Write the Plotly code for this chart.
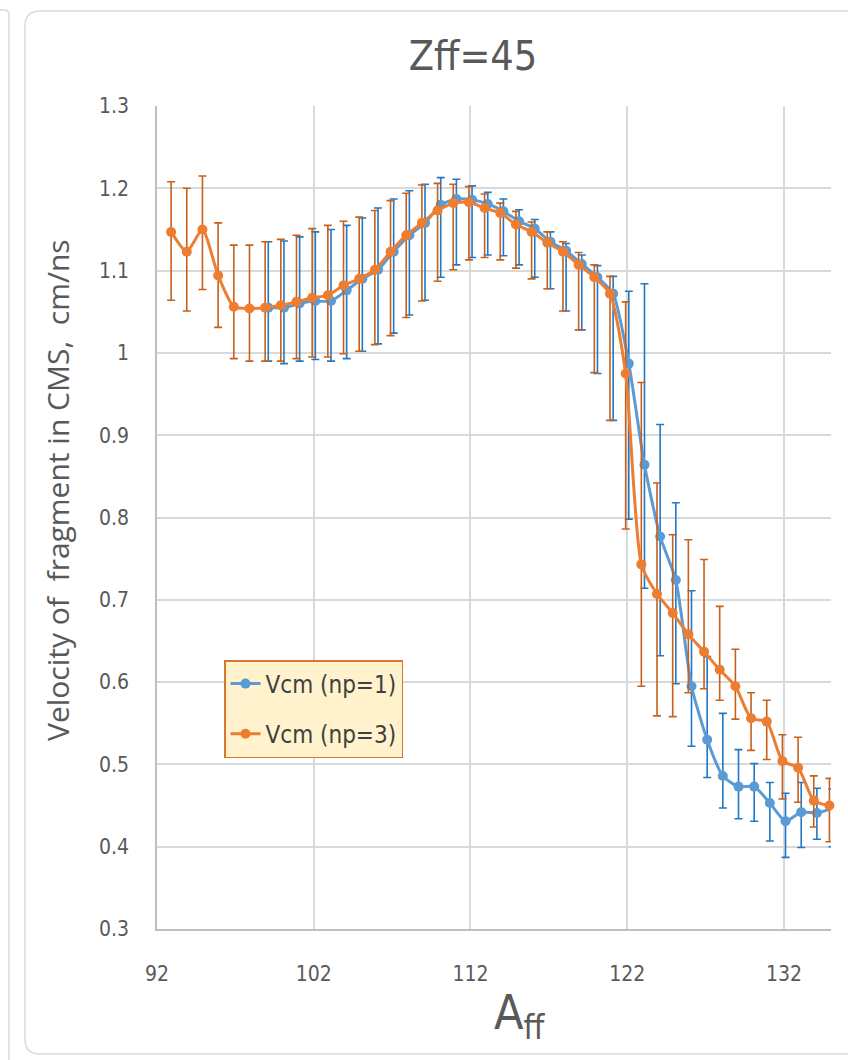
import plotly.graph_objects as go

# Fragment mass numbers
A_np1 = list(range(99, 136))
A_np3 = list(range(93, 136))

# Vcm for np=1: value, upper bound, lower bound (cm/ns)
v_np1 = [1.055, 1.055, 1.060, 1.063, 1.063, 1.076, 1.090, 1.101, 1.123, 1.143,
         1.158, 1.180, 1.187, 1.186, 1.181, 1.172, 1.160, 1.151, 1.135, 1.124,
         1.108, 1.092, 1.072, 0.987, 0.864, 0.777, 0.724, 0.595, 0.530, 0.486,
         0.473, 0.473, 0.453, 0.431, 0.442, 0.441, 0.447]
hi_np1 = [1.135, 1.136, 1.141, 1.147, 1.150, 1.155, 1.164, 1.176, 1.187, 1.197,
          1.205, 1.213, 1.211, 1.203, 1.195, 1.187, 1.174, 1.162, 1.147, 1.133,
          1.119, 1.106, 1.093, 1.075, 1.084, 0.913, 0.818, 0.711, 0.631, 0.562,
          0.518, 0.501, 0.478, 0.465, 0.478, 0.471, 0.470]
lo_np1 = [0.990, 0.987, 0.990, 0.992, 0.990, 0.993, 1.002, 1.011, 1.024, 1.046,
          1.064, 1.092, 1.107, 1.116, 1.119, 1.118, 1.107, 1.092, 1.078, 1.051,
          1.028, 0.975, 0.918, 0.798, 0.714, 0.632, 0.598, 0.522, 0.484, 0.447,
          0.434, 0.431, 0.407, 0.387, 0.399, 0.409, 0.400]

# Vcm for np=3: value, upper bound, lower bound (cm/ns)
v_np3 = [1.147, 1.123, 1.150, 1.094, 1.056, 1.054, 1.055, 1.058, 1.062, 1.067,
         1.070, 1.082, 1.090, 1.101, 1.123, 1.143, 1.158, 1.173, 1.182, 1.183,
         1.176, 1.170, 1.156, 1.147, 1.134, 1.123, 1.107, 1.092, 1.072, 0.975,
         0.743, 0.707, 0.684, 0.658, 0.637, 0.615, 0.595, 0.556, 0.552, 0.504,
         0.496, 0.456, 0.450]
hi_np3 = [1.208, 1.200, 1.215, 1.158, 1.131, 1.131, 1.135, 1.138, 1.143, 1.151,
          1.155, 1.160, 1.165, 1.173, 1.185, 1.194, 1.204, 1.206, 1.205, 1.202,
          1.193, 1.182, 1.172, 1.159, 1.147, 1.135, 1.122, 1.107, 1.093, 1.062,
          0.964, 0.842, 0.779, 0.773, 0.749, 0.692, 0.640, 0.587, 0.578, 0.536,
          0.533, 0.486, 0.483]
lo_np3 = [1.064, 1.051, 1.077, 1.031, 0.993, 0.990, 0.990, 0.990, 0.993, 0.995,
          0.995, 0.999, 1.002, 1.010, 1.021, 1.043, 1.063, 1.087, 1.101, 1.113,
          1.116, 1.113, 1.103, 1.090, 1.078, 1.051, 1.028, 0.976, 0.918, 0.786,
          0.595, 0.559, 0.558, 0.587, 0.592, 0.578, 0.555, 0.517, 0.506, 0.458,
          0.454, 0.424, 0.406]

x_ticks = [92, 102, 112, 122, 132]
y_ticks = [0.3, 0.4, 0.5, 0.6, 0.7, 0.8, 0.9, 1.0, 1.1, 1.2, 1.3]

W, H = 848, 1060
ML, MR, MT, MB = 157, 17, 106, 131
PW, PH = W - ML - MR, H - MT - MB

NARROW = "DejaVu Sans Condensed, Liberation Sans Narrow, sans-serif"
GREY = "#595959"


def fx(p):
    return (p - ML) / PW


def fy(p):
    return (H - MB - p) / PH


def series(name, xs, v, hi, lo, dodge, line_c, err_c):
    return go.Scatter(
        x=[a + dodge for a in xs], y=v, name=name, legendgroup=name,
        mode="lines+markers",
        line=dict(color=line_c, width=3, shape="spline", smoothing=0.6),
        marker=dict(color=line_c, size=10, symbol="circle"),
        error_y=dict(type="data", symmetric=False,
                     array=[h - c for h, c in zip(hi, v)],
                     arrayminus=[c - l for c, l in zip(v, lo)],
                     color=err_c, thickness=1.6, width=4),
        cliponaxis=False,
    )


fig = go.Figure()
fig.add_trace(series("Vcm (np=1)", A_np1, v_np1, hi_np1, lo_np1, 0.1,
                     "#5B9BD5", "#1F78C8"))
fig.add_trace(series("Vcm (np=3)", A_np3, v_np3, hi_np3, lo_np3, -0.1,
                     "#ED7D31", "#C8601A"))

# card outline with rounded corners, plus the neighbouring panel edge
L, T, R, B, r = 25, 11, 880, 1054, 15
card = (f"M {fx(L + r)},{fy(T)} L {fx(R)},{fy(T)} L {fx(R)},{fy(B)} "
        f"L {fx(L + r)},{fy(B)} Q {fx(L)},{fy(B)} {fx(L)},{fy(B - r)} "
        f"L {fx(L)},{fy(T + r)} Q {fx(L)},{fy(T)} {fx(L + r)},{fy(T)}")
side = (f"M {fx(-2)},{fy(10)} L {fx(4)},{fy(10)} Q {fx(9)},{fy(10)} {fx(9)},{fy(15)} "
        f"L {fx(9)},{fy(1062)}")
shapes = [
    dict(type="path", xref="paper", yref="paper", path=card,
         line=dict(color="#d9d9d9", width=1.5), layer="below"),
    dict(type="path", xref="paper", yref="paper", path=side,
         line=dict(color="#d9d9d9", width=1.5), layer="below"),
]

annotations = [
    dict(text="Velocity of  fragment in CMS,  cm/ns", textangle=-90,
         xref="paper", yref="paper", x=fx(57), y=fy(490),
         xanchor="center", yanchor="middle", showarrow=False,
         font=dict(family="Open Sans, sans-serif", size=30, color=GREY)),
    dict(text="A<sub>ff</sub>",
         xref="paper", yref="paper", x=fx(520), y=fy(1016),
         xanchor="center", yanchor="middle", showarrow=False,
         font=dict(family=NARROW, size=48, color=GREY)),
]

fig.update_layout(
    width=W, height=H,
    margin=dict(l=ML, r=MR, t=MT, b=MB),
    paper_bgcolor="white", plot_bgcolor="white",
    title=dict(text="Zff=45", x=473 / W, y=1 - 56 / H, xref="container",
               yref="container", xanchor="center", yanchor="middle",
               font=dict(family=NARROW, size=41, color=GREY)),
    xaxis=dict(range=[92, 135], tickvals=x_ticks,
               ticktext=[str(t) for t in x_ticks],
               showgrid=True, gridcolor="#d9d9d9", gridwidth=1.5,
               showline=True, linecolor="#bfbfbf", linewidth=1.5,
               zeroline=False, ticks="", ticklabelstandoff=25,
               tickfont=dict(family=NARROW, size=21, color=GREY)),
    yaxis=dict(range=[0.3, 1.3], tickvals=y_ticks,
               ticktext=[f"{t:g}" for t in y_ticks],
               showgrid=True, gridcolor="#d9d9d9", gridwidth=1.5,
               showline=True, linecolor="#bfbfbf", linewidth=1.5,
               zeroline=False, ticks="", ticklabelstandoff=22,
               tickfont=dict(family=NARROW, size=21, color=GREY)),
    legend=dict(x=fx(224), y=fy(660), xanchor="left", yanchor="top",
                bgcolor="#FFF2CC", bordercolor="#D9762F", borderwidth=1.5,
                font=dict(family=NARROW, size=24, color="#404040"),
                tracegroupgap=16, itemwidth=30),
    shapes=shapes,
    annotations=annotations,
    showlegend=True,
)

fig.write_html("out.html")
